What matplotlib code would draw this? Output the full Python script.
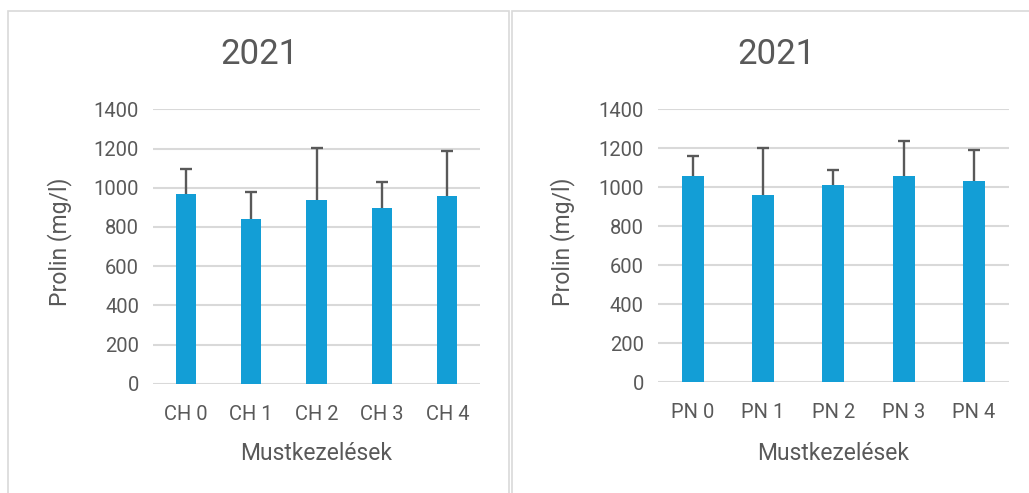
import numpy as np
import matplotlib
matplotlib.use('Agg')
import matplotlib.pyplot as plt
from matplotlib.patches import Rectangle

plt.rcParams['font.family'] = ['Roboto', 'DejaVu Sans']

# data
ch_labels = ['CH 0', 'CH 1', 'CH 2', 'CH 3', 'CH 4']
ch_vals = [968, 839, 936, 895, 958]
ch_err = [127, 141, 265, 136, 229]

pn_labels = ['PN 0', 'PN 1', 'PN 2', 'PN 3', 'PN 4']
pn_vals = [1059, 960, 1010, 1056, 1032]
pn_err = [100, 241, 79, 183, 161]

title = '2021'
ylab = 'Prolin (mg/l)'
xlab = 'Mustkezelések'
yticks = [0, 200, 400, 600, 800, 1000, 1200, 1400]

W, H = 1029, 493
txt = '#595959'
grid = '#d9d9d9'
bar_c = '#139ed6'

fig = plt.figure(figsize=(W / 100, H / 100), dpi=100)

# panel borders
for x0, x1 in [(8, 509), (512, 1040)]:
    fig.patches.append(Rectangle((x0 / W, -0.05), (x1 - x0) / W, 1.05 - 11 / H,
                                 transform=fig.transFigure, fill=False,
                                 edgecolor=grid, lw=1.2))

def panel(rect, labels, vals, errs, tcx, ylx):
    ax = fig.add_axes(rect)
    x = np.arange(len(labels))
    ax.bar(x, vals, width=0.31, color=bar_c, zorder=3)
    eb = ax.errorbar(x, vals, yerr=[np.zeros(len(errs)), errs], fmt='none',
                     ecolor='#595959', elinewidth=1.7, capsize=4.3, capthick=1.7, zorder=4)
    # only the upper cap is shown
    eb[1][0].set_visible(False)
    ax.set_xlim(-0.5, len(labels) - 0.5)
    ax.set_ylim(0, 1400)
    ax.set_yticks(yticks)
    ax.set_xticks(x)
    ax.set_xticklabels(labels)
    ax.yaxis.grid(True, color=grid, lw=1.5, zorder=0)
    ax.set_axisbelow(True)
    for s in ax.spines.values():
        s.set_visible(False)
    ax.tick_params(length=0, labelsize=14.5, colors=txt)
    ax.tick_params(axis='y', pad=10)
    ax.tick_params(axis='x', pad=15)
    fig.text(tcx / W, 1 - 54 / H, title, ha='center', va='center', fontsize=25, color=txt)
    fig.text(ylx / W, 1 - 242 / H, ylab, ha='center', va='center', rotation=90,
             fontsize=16.5, color=txt)
    cx = rect[0] + rect[2] / 2
    fig.text(cx, 1 - 453 / H, xlab, ha='center', va='center', fontsize=16.5, color=txt)
    return ax

panel([153 / W, (H - 383.7) / H, 327 / W, 274.4 / H], ch_labels, ch_vals, ch_err, 259, 60)
panel([657.7 / W, (H - 382.3) / H, 351.3 / W, 273 / H], pn_labels, pn_vals, pn_err, 776, 563)

fig.savefig('out.png', dpi=100, facecolor='white')
